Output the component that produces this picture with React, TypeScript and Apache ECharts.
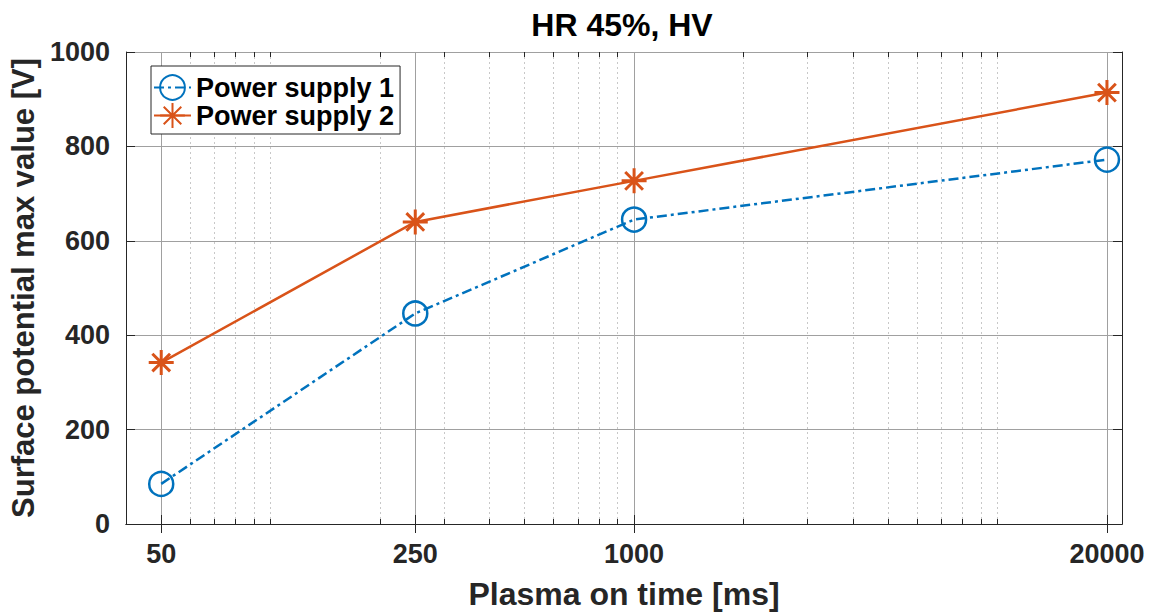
import React, { useEffect, useRef } from "react";
import * as echarts from "echarts";

const plasmaTimes = [50, 250, 1000, 20000];
const supply1 = [85, 446, 645, 772];
const supply2 = [342, 640, 727, 914];
const majorTicks = [50, 250, 1000, 20000];
const minorTicks = [60, 70, 80, 90, 100, 200, 300, 400, 500, 600, 700, 800, 900, 2000, 3000, 4000, 5000, 6000, 7000, 8000, 9000, 10000];
const xLimits = [40, 22000];
const yLimits = [0, 1000];
const yStep = 200;

const FONT = "'Liberation Sans', Arial, Helvetica, sans-serif";
const AXIS_COLOR = "#262626";
const BLUE = "#0072BD";
const ORANGE = "#D95319";
const ASTERISK = "path://M12 0L12 24M0 12L24 12M3.5 3.5L20.5 20.5M3.5 20.5L20.5 3.5";

const lg = (v: number) => Math.log10(v);

export default function App() {
  const ref = useRef<HTMLDivElement>(null);
  useEffect(() => {
    document.body.style.margin = "0";
    const chart = echarts.init(ref.current!, null, { renderer: "svg" });
    const gridRect = { left: 126, top: 52, width: 996, height: 472, outerBoundsMode: "none" } as any;
    const xBase = { type: "value", min: lg(xLimits[0]), max: lg(xLimits[1]) } as any;
    const majorVals = majorTicks.map(lg);
    const minorVals = minorTicks.map(lg);
    chart.setOption({
      animation: false,
      backgroundColor: "#ffffff",
      title: {
        text: "HR 45%, HV",
        left: 622,
        top: 9,
        textAlign: "center",
        padding: 0,
        textStyle: { fontFamily: FONT, fontSize: 32, fontWeight: "bold", color: "#000" },
      },
      legend: {
        data: ["Power supply 1", "Power supply 2"],
        orient: "vertical",
        left: 151,
        top: 66,
        align: "left",
        padding: [8, 6, 5, 2],
        itemWidth: 37,
        itemHeight: 31,
        itemGap: 1,
        backgroundColor: "#ffffff",
        borderColor: AXIS_COLOR,
        borderWidth: 1,
        textStyle: { fontFamily: FONT, fontSize: 27, fontWeight: "bold", color: "#000" },
      },
      grid: [gridRect, { ...gridRect }],
      xAxis: [
        {
          ...xBase,
          gridIndex: 0,
          position: "bottom",
          name: "Plasma on time [ms]",
          nameLocation: "middle",
          nameGap: 54,
          nameTextStyle: { fontFamily: FONT, fontSize: 32, fontWeight: "bold", color: AXIS_COLOR },
          axisLine: { show: true, lineStyle: { color: AXIS_COLOR, width: 1 } },
          axisTick: { show: true, inside: true, length: 9, customValues: majorVals, lineStyle: { color: AXIS_COLOR } },
          axisLabel: {
            show: true,
            customValues: majorVals,
            margin: 16,
            fontFamily: FONT,
            fontSize: 27,
            fontWeight: "bold",
            color: AXIS_COLOR,
            formatter: (v: number) => String(Math.round(Math.pow(10, v))),
          },
          splitLine: { show: true, lineStyle: { color: "#a0a0a0", width: 1 } },
        },
        {
          ...xBase,
          gridIndex: 0,
          position: "top",
          axisLine: { show: true, lineStyle: { color: AXIS_COLOR, width: 1 } },
          axisTick: { show: true, inside: true, length: 9, customValues: majorVals, lineStyle: { color: AXIS_COLOR } },
          axisLabel: { show: false, customValues: majorVals },
          splitLine: { show: false },
        },
        {
          ...xBase,
          gridIndex: 1,
          position: "bottom",
          axisLine: { show: false },
          axisTick: { show: true, inside: true, length: 5, customValues: minorVals, lineStyle: { color: AXIS_COLOR } },
          axisLabel: { show: false, customValues: minorVals },
          splitLine: { show: true, lineStyle: { color: "#c8c8c8", width: 1, type: [2, 3] } },
        },
        {
          ...xBase,
          gridIndex: 1,
          position: "top",
          axisLine: { show: false },
          axisTick: { show: true, inside: true, length: 5, customValues: minorVals, lineStyle: { color: AXIS_COLOR } },
          axisLabel: { show: false, customValues: minorVals },
          splitLine: { show: false },
        },
      ],
      yAxis: [
        {
          type: "value",
          gridIndex: 0,
          position: "left",
          min: yLimits[0],
          max: yLimits[1],
          interval: yStep,
          name: "Surface potential max value [V]",
          nameLocation: "middle",
          nameGap: 78,
          nameTextStyle: { fontFamily: FONT, fontSize: 31, fontWeight: "bold", color: AXIS_COLOR },
          axisLine: { show: true, lineStyle: { color: AXIS_COLOR, width: 1 } },
          axisTick: { show: true, inside: true, length: 9, lineStyle: { color: AXIS_COLOR } },
          axisLabel: {
            margin: 16,
            fontFamily: FONT,
            fontSize: 27,
            fontWeight: "bold",
            color: AXIS_COLOR,
            formatter: (v: number) => String(v),
          },
          splitLine: { show: true, lineStyle: { color: "#a0a0a0", width: 1 } },
        },
        {
          type: "value",
          gridIndex: 0,
          position: "right",
          min: yLimits[0],
          max: yLimits[1],
          interval: yStep,
          axisLine: { show: true, lineStyle: { color: AXIS_COLOR, width: 1 } },
          axisTick: { show: true, inside: true, length: 9, lineStyle: { color: AXIS_COLOR } },
          axisLabel: { show: false },
          splitLine: { show: false },
        },
        {
          type: "value",
          gridIndex: 1,
          min: yLimits[0],
          max: yLimits[1],
          show: false,
        },
      ],
      series: [
        {
          name: "Power supply 1",
          type: "line",
          xAxisIndex: 0,
          yAxisIndex: 0,
          data: plasmaTimes.map((t, i) => [lg(t), supply1[i]]),
          symbol: "circle",
          symbolSize: 24,
          showAllSymbol: true,
          lineStyle: { color: BLUE, width: 2.5, type: [10, 4, 3, 4] },
          itemStyle: { color: "rgba(0,0,0,0)", borderColor: BLUE, borderWidth: 2.5 },
          emphasis: { disabled: true },
        },
        {
          name: "Power supply 2",
          type: "line",
          xAxisIndex: 0,
          yAxisIndex: 0,
          data: plasmaTimes.map((t, i) => [lg(t), supply2[i]]),
          symbol: ASTERISK,
          symbolSize: 25,
          showAllSymbol: true,
          lineStyle: { color: ORANGE, width: 2.5 },
          itemStyle: { color: "rgba(0,0,0,0)", borderColor: ORANGE, borderWidth: 3 },
          emphasis: { disabled: true },
        },
      ],
    });
    return () => chart.dispose();
  }, []);
  return <div ref={ref} style={{ width: 1158, height: 614 }} />;
}
